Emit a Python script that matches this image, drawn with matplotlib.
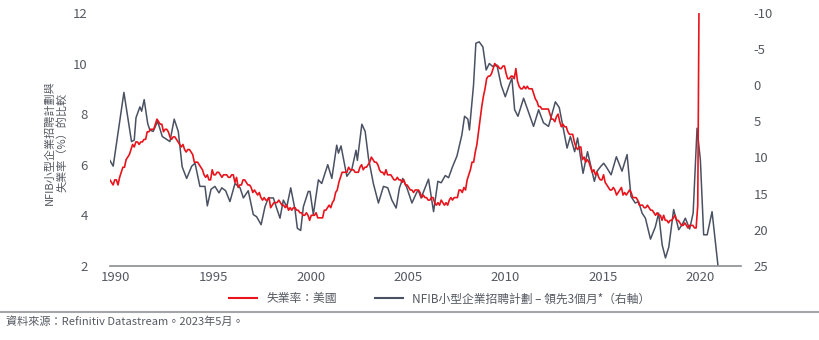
import numpy as np
import matplotlib.pyplot as plt
from matplotlib.lines import Line2D

plt.rcParams['font.family'] = ['Noto Sans CJK TC', 'DejaVu Sans']
plt.rcParams['axes.unicode_minus'] = False

# US unemployment rate, monthly, Jan 1990 - Apr 2020 (%)
unemployment = [
    5.4, 5.3, 5.2, 5.4, 5.4, 5.2, 5.5, 5.7, 5.9, 5.9, 6.2, 6.3,
    6.4, 6.6, 6.8, 6.7, 6.9, 6.9, 6.8, 6.9, 6.9, 7.0, 7.0, 7.3,
    7.3, 7.4, 7.4, 7.4, 7.6, 7.8, 7.7, 7.6, 7.6, 7.3, 7.4, 7.4,
    7.3, 7.1, 7.0, 7.1, 7.1, 7.0, 6.9, 6.8, 6.7, 6.8, 6.6, 6.5,
    6.6, 6.6, 6.5, 6.4, 6.1, 6.1, 6.1, 6.0, 5.9, 5.8, 5.6, 5.5,
    5.6, 5.4, 5.4, 5.8, 5.6, 5.6, 5.7, 5.7, 5.6, 5.5, 5.6, 5.6,
    5.6, 5.5, 5.5, 5.6, 5.6, 5.3, 5.5, 5.1, 5.2, 5.2, 5.4, 5.4,
    5.3, 5.2, 5.2, 5.1, 4.9, 5.0, 4.9, 4.8, 4.9, 4.7, 4.6, 4.7,
    4.6, 4.6, 4.7, 4.3, 4.4, 4.5, 4.5, 4.5, 4.6, 4.5, 4.4, 4.4,
    4.3, 4.4, 4.2, 4.3, 4.2, 4.3, 4.3, 4.2, 4.2, 4.1, 4.1, 4.0,
    4.0, 4.1, 4.0, 3.8, 4.0, 4.0, 4.0, 4.1, 3.9, 3.9, 3.9, 3.9,
    4.2, 4.2, 4.3, 4.4, 4.3, 4.5, 4.6, 4.9, 5.0, 5.3, 5.5, 5.7,
    5.7, 5.7, 5.7, 5.9, 5.8, 5.8, 5.8, 5.7, 5.7, 5.7, 5.9, 6.0,
    5.8, 5.9, 5.9, 6.0, 6.1, 6.3, 6.2, 6.1, 6.1, 6.0, 5.8, 5.7,
    5.7, 5.6, 5.8, 5.6, 5.6, 5.6, 5.5, 5.4, 5.4, 5.5, 5.4, 5.4,
    5.3, 5.4, 5.2, 5.2, 5.1, 5.0, 5.0, 4.9, 5.0, 5.0, 5.0, 4.9,
    4.7, 4.8, 4.7, 4.7, 4.6, 4.6, 4.7, 4.7, 4.5, 4.4, 4.5, 4.4,
    4.6, 4.5, 4.4, 4.5, 4.4, 4.6, 4.7, 4.6, 4.7, 4.7, 4.7, 5.0,
    5.0, 4.9, 5.1, 5.0, 5.4, 5.6, 5.8, 6.1, 6.1, 6.5, 6.8, 7.3,
    7.8, 8.3, 8.7, 9.0, 9.4, 9.5, 9.5, 9.6, 9.8, 10.0, 9.9, 9.9,
    9.8, 9.8, 9.9, 9.9, 9.6, 9.4, 9.4, 9.5, 9.5, 9.4, 9.8, 9.3,
    9.1, 9.0, 9.0, 9.1, 9.0, 9.1, 9.0, 9.0, 9.0, 8.8, 8.6, 8.5,
    8.3, 8.3, 8.2, 8.2, 8.2, 8.2, 8.2, 8.0, 7.8, 7.8, 7.7, 7.9,
    8.0, 7.7, 7.5, 7.6, 7.5, 7.5, 7.3, 7.2, 7.2, 7.2, 6.9, 6.7,
    6.6, 6.7, 6.7, 6.2, 6.3, 6.1, 6.2, 6.1, 5.9, 5.7, 5.8, 5.6,
    5.7, 5.5, 5.4, 5.4, 5.6, 5.3, 5.2, 5.1, 5.0, 5.0, 5.1, 5.0,
    4.8, 4.9, 5.0, 5.1, 4.8, 4.9, 4.8, 4.9, 5.0, 4.9, 4.7, 4.7,
    4.7, 4.6, 4.4, 4.4, 4.4, 4.3, 4.3, 4.4, 4.3, 4.2, 4.2, 4.1,
    4.0, 4.1, 4.0, 4.0, 3.8, 4.0, 3.8, 3.8, 3.7, 3.8, 3.8, 3.9,
    4.0, 3.8, 3.8, 3.7, 3.6, 3.6, 3.7, 3.6, 3.5, 3.6, 3.6, 3.6,
    3.5, 3.5, 4.4, 14.7,
]
unemp_dates = 1990 + np.arange(len(unemployment)) / 12

# NFIB hiring plans, lead 3 months (right axis, inverted)
nfib_dates = [
    1990.00, 1990.17, 1990.72, 1991.11, 1991.25, 1991.34, 1991.54, 1991.63, 1991.76, 1991.94,
    1992.05, 1992.22, 1992.45, 1992.69, 1993.08, 1993.30, 1993.51, 1993.71, 1993.94, 1994.20,
    1994.37, 1994.62, 1994.88, 1995.00, 1995.19, 1995.39, 1995.60, 1995.74, 1995.94, 1996.16,
    1996.42, 1996.68, 1996.85, 1997.10, 1997.36, 1997.53, 1997.76, 1997.96, 1998.13, 1998.39,
    1998.53, 1998.73, 1998.90, 1999.08, 1999.28, 1999.50, 1999.62, 1999.79, 1999.93, 2000.18,
    2000.27, 2000.44, 2000.70, 2000.87, 2001.18, 2001.39, 2001.64, 2001.73, 2001.86, 2002.16,
    2002.41, 2002.63, 2002.70, 2002.93, 2003.10, 2003.27, 2003.52, 2003.78, 2004.04, 2004.26,
    2004.47, 2004.69, 2004.86, 2005.03, 2005.24, 2005.50, 2005.75, 2005.83, 2005.97, 2006.35,
    2006.61, 2006.83, 2007.00, 2007.21, 2007.38, 2007.58, 2007.81, 2008.06, 2008.20, 2008.37,
    2008.45, 2008.66, 2008.78, 2008.95, 2009.14, 2009.31, 2009.47, 2009.64, 2009.86, 2010.08,
    2010.29, 2010.49, 2010.63, 2010.77, 2010.94, 2011.23, 2011.48, 2011.74, 2012.00, 2012.25,
    2012.51, 2012.86, 2013.06, 2013.28, 2013.46, 2013.63, 2013.85, 2014.00, 2014.28, 2014.51,
    2014.86, 2015.00, 2015.20, 2015.34, 2015.47, 2015.72, 2015.99, 2016.28, 2016.54, 2016.74,
    2016.96, 2017.13, 2017.31, 2017.48, 2017.74, 2017.99, 2018.16, 2018.34, 2018.51, 2018.68,
    2018.93, 2019.19, 2019.36, 2019.53, 2019.75, 2019.93, 2020.13, 2020.30, 2020.47, 2020.65,
    2020.90, 2021.21,
]
nfib_values = [
    10.4, 11.2, 1.0, 7.8, 7.6, 4.5, 3.0, 3.6, 2.0, 5.3,
    6.2, 6.4, 5.0, 7.1, 7.8, 4.7, 6.4, 11.3, 12.9, 11.2,
    10.8, 14.0, 14.0, 16.7, 14.4, 14.0, 14.9, 14.2, 14.6, 16.1,
    13.6, 14.2, 15.6, 14.6, 17.9, 18.2, 19.3, 16.8, 15.6, 15.6,
    16.8, 18.4, 15.9, 16.8, 14.2, 17.2, 19.8, 20.1, 16.8, 14.7,
    14.7, 17.9, 13.1, 13.6, 11.0, 12.9, 8.3, 9.4, 8.4, 12.6,
    11.7, 9.0, 10.4, 5.4, 6.4, 10.1, 13.6, 16.3, 14.0, 14.2,
    15.9, 17.0, 14.2, 12.9, 14.2, 16.3, 14.8, 14.6, 15.6, 13.0,
    17.5, 13.3, 13.5, 12.5, 12.8, 11.3, 9.8, 6.9, 4.3, 4.7,
    6.2, 0.0, -5.8, -6.0, -5.3, -2.1, -3.0, -2.6, -2.8, 0.0,
    1.6, 0.0, -1.0, 3.4, 4.3, 1.8, 3.7, 5.7, 3.4, 5.2,
    5.7, 2.3, 3.1, 6.2, 8.7, 7.1, 9.2, 7.3, 12.2, 9.2,
    13.3, 11.9, 11.2, 10.8, 11.3, 12.4, 9.9, 11.9, 9.6, 15.4,
    16.3, 16.1, 17.7, 18.4, 21.3, 19.6, 17.7, 22.1, 23.9, 22.4,
    17.2, 20.0, 19.3, 18.4, 19.9, 17.7, 5.95, 10.3, 20.7, 20.7,
    17.5, 25.1,
]

years = [1990, 1995, 2000, 2005, 2010, 2015, 2020]
left_ticks = [2, 4, 6, 8, 10, 12]
right_ticks = [-10, -5, 0, 5, 10, 15, 20, 25]

red = '#e8141c'
slate = '#4a5162'
text_col = '#555a62'

fig = plt.figure(figsize=(8.2, 3.4), dpi=100)
ax = fig.add_axes([0.134, 0.218, 0.770, 0.744])
ax2 = ax.twinx()
# keep the red line on top of the grey one
ax.set_zorder(ax2.get_zorder() + 1)
ax.patch.set_visible(False)

ax2.plot(nfib_dates, nfib_values, color=slate, lw=1.1)
ax.plot(unemp_dates, unemployment, color=red, lw=1.2)

ax.set_xlim(1990, 2022.4)
ax.set_ylim(2, 12)
ax2.set_ylim(25, -10)

ax.set_xticks([y + 0.3 for y in years])
ax.set_xticklabels([str(y) for y in years])
ax.set_yticks(left_ticks)
ax2.set_yticks(right_ticks)

for a in (ax, ax2):
    for s in a.spines.values():
        s.set_visible(False)
    a.tick_params(length=0, labelsize=9.5, colors=text_col)
ax.spines['bottom'].set_visible(True)
ax.spines['bottom'].set_color('#8a8d92')
ax.spines['bottom'].set_linewidth(1.2)
ax.tick_params(axis='y', pad=16)
ax.tick_params(axis='x', pad=4)
ax2.tick_params(axis='y', pad=9)

fig.text(0.068, 0.58, 'NFIB小型企業招聘計劃與\n失業率（%）的比較', rotation=90,
         ha='center', va='center', multialignment='center', fontsize=8, color=text_col,
         linespacing=1.15)

handles = [Line2D([], [], color=red, lw=1.5), Line2D([], [], color=slate, lw=1.5)]
fig.legend(handles, ['失業率：美國', 'NFIB小型企業招聘計劃 – 領先3個月*（右軸）'],
           loc='center', bbox_to_anchor=(0.536, 0.121), ncol=2, frameon=False,
           fontsize=8.5, handlelength=2.4, handletextpad=0.75, columnspacing=3.2,
           labelcolor=text_col)

fig.add_artist(Line2D([0, 1], [0.082, 0.082], transform=fig.transFigure,
                      color='#a3a5a8', lw=1.5))
fig.text(0.007, 0.053, '資料來源：Refinitiv Datastream。2023年5月。', fontsize=8,
         color=text_col, ha='left', va='center')

fig.savefig('out.png', dpi=100)
